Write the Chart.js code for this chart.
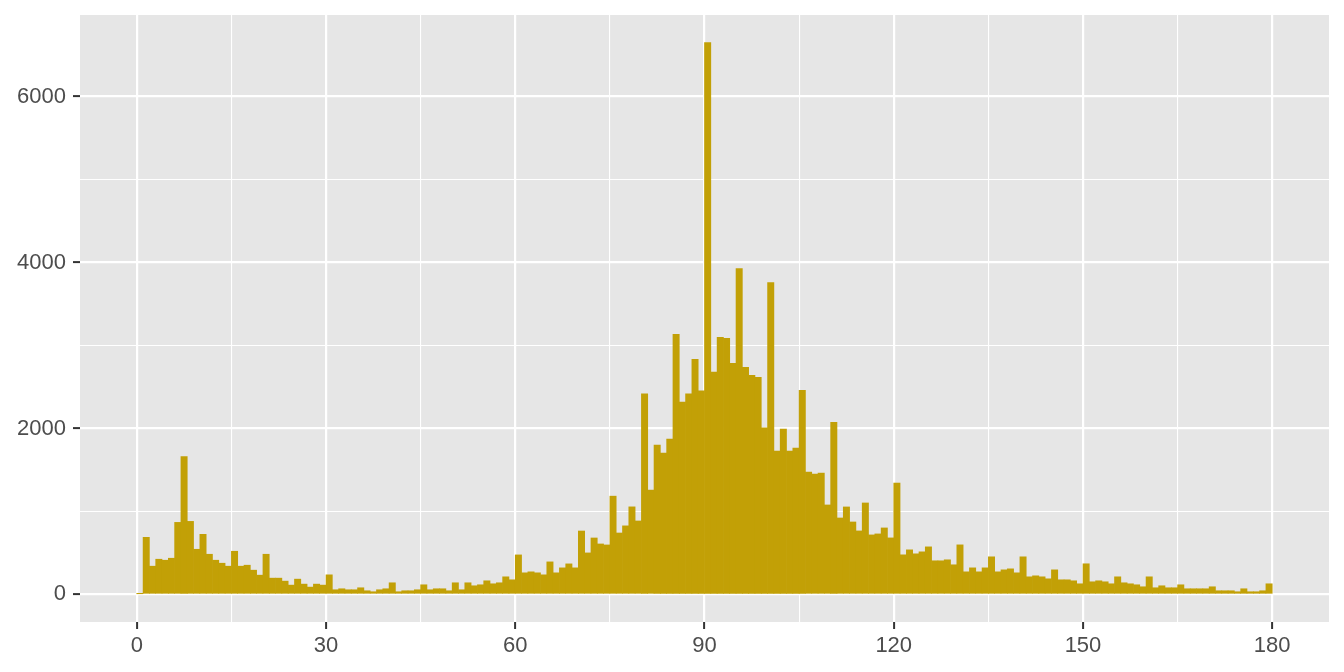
<!DOCTYPE html>
<html>
<head>
<meta charset="utf-8">
<script src="https://cdn.jsdelivr.net/npm/chart.js@4.4.1/dist/chart.umd.min.js"></script>
<style>
  html, body { margin: 0; padding: 0; background: #ffffff; }
  canvas { display: block; }
</style>
</head>
<body>
<canvas id="histChart" width="1344" height="672"></canvas>
<script>
// counts per 1-unit bin, bin i covers [i, i+1)
const counts = [
    8, 688, 340, 424, 412, 436, 868, 1660, 880, 544,
    724, 484, 412, 376, 340, 520, 340, 352, 292, 232,
    484, 196, 196, 160, 112, 184, 124, 88, 124, 112,
    236, 56, 68, 56, 56, 80, 44, 32, 56, 68,
    140, 32, 44, 44, 56, 116, 56, 68, 68, 44,
    140, 56, 140, 104, 116, 164, 128, 140, 212, 176,
    476, 260, 272, 260, 236, 392, 260, 320, 368, 320,
    764, 500, 680, 608, 596, 1184, 740, 826, 1055, 885,
    2416, 1257, 1800, 1702, 1872, 3134, 2317, 2416, 2833, 2452,
    6650, 2680, 3097, 3085, 2784, 3926, 2736, 2640, 2616, 2007,
    3758, 1727, 1991, 1727, 1763, 2460, 1474, 1450, 1462, 1078,
    2075, 921, 1054, 873, 765, 1102, 717, 729, 801, 681,
    1342, 477, 537, 489, 513, 573, 405, 405, 417, 357,
    597, 272, 320, 272, 320, 453, 272, 296, 308, 260,
    453, 212, 224, 212, 188, 296, 176, 176, 164, 128,
    369, 152, 164, 152, 128, 212, 140, 128, 116, 92,
    212, 80, 104, 80, 80, 116, 68, 68, 68, 68,
    92, 44, 44, 44, 32, 68, 32, 32, 44, 128
];
const binWidth = 1;

// tick positions
const xMajor = [0, 30, 60, 90, 120, 150, 180];
const xMinor = [15, 45, 75, 105, 135, 165];
const yMajor = [0, 2000, 4000, 6000];
const yMinor = [1000, 3000, 5000];

const barColor = '#C2A006';
const panelColor = '#E6E6E6';
const textColor = '#4D4D4D';

// ggplot style 5% expansion
const xLo = 0, xHi = 180;
const yTop = Math.max(...counts);
const xPad = (xHi - xLo) * 0.05;
const yPad = yTop * 0.05;

function tickSetter(major, minor) {
    return function (scale) {
        scale.ticks = major.concat(minor).sort((a, b) => a - b).map(v => ({ value: v }));
    };
}

function gridFor(major) {
    return {
        offset: false,
        color: '#ffffff',
        lineWidth: ctx => (ctx.tick && major.includes(ctx.tick.value)) ? 2.2 : 1.1,
        drawTicks: true,
        tickLength: 7,
        tickWidth: 2,
        tickColor: ctx => (ctx.tick && major.includes(ctx.tick.value)) ? '#333333' : 'rgba(0,0,0,0)'
    };
}

// fixed axis box sizes, no label overflow padding
function fixSize(w, h) {
    return function (s) {
        if (w) s.width = w;
        if (h) s.height = h;
        s.paddingTop = 0;
        s.paddingBottom = 0;
        s.paddingLeft = 0;
        s.paddingRight = 0;
    };
}

// grey panel behind the plot area
const panelBg = {
    id: 'panelBg',
    beforeDraw(chart) {
        const { ctx, chartArea } = chart;
        ctx.save();
        ctx.fillStyle = panelColor;
        ctx.fillRect(chartArea.left, chartArea.top, chartArea.right - chartArea.left, chartArea.bottom - chartArea.top);
        ctx.restore();
    }
};

const ctx = document.getElementById('histChart').getContext('2d');
new Chart(ctx, {
    type: 'bar',
    data: {
        datasets: [{
            data: counts.map((c, i) => ({ x: i * binWidth + binWidth / 2, y: c })),
            backgroundColor: barColor,
            borderWidth: 0,
            barPercentage: 1,
            categoryPercentage: 1
        }]
    },
    options: {
        responsive: false,
        animation: false,
        devicePixelRatio: 1,
        layout: { padding: { top: 15, right: 15, left: 0, bottom: 0 } },
        plugins: {
            legend: { display: false },
            tooltip: { enabled: false }
        },
        scales: {
            x: {
                type: 'linear',
                offset: false,
                min: xLo - xPad,
                max: xHi + xPad,
                afterBuildTicks: tickSetter(xMajor, xMinor),
                afterFit: fixSize(0, 50),
                border: { display: false },
                grid: gridFor(xMajor),
                ticks: {
                    autoSkip: false,
                    maxRotation: 0,
                    padding: 4,
                    color: textColor,
                    font: { family: 'Liberation Sans', size: 22 },
                    callback: v => xMajor.includes(v) ? String(v) : ''
                }
            },
            y: {
                type: 'linear',
                min: -yPad,
                max: yTop + yPad,
                afterBuildTicks: tickSetter(yMajor, yMinor),
                afterFit: fixSize(80, 0),
                border: { display: false },
                grid: gridFor(yMajor),
                ticks: {
                    padding: 7,
                    color: textColor,
                    font: { family: 'Liberation Sans', size: 22 },
                    callback: v => yMajor.includes(v) ? String(v) : ''
                }
            }
        }
    },
    plugins: [panelBg]
});
</script>
</body>
</html>
